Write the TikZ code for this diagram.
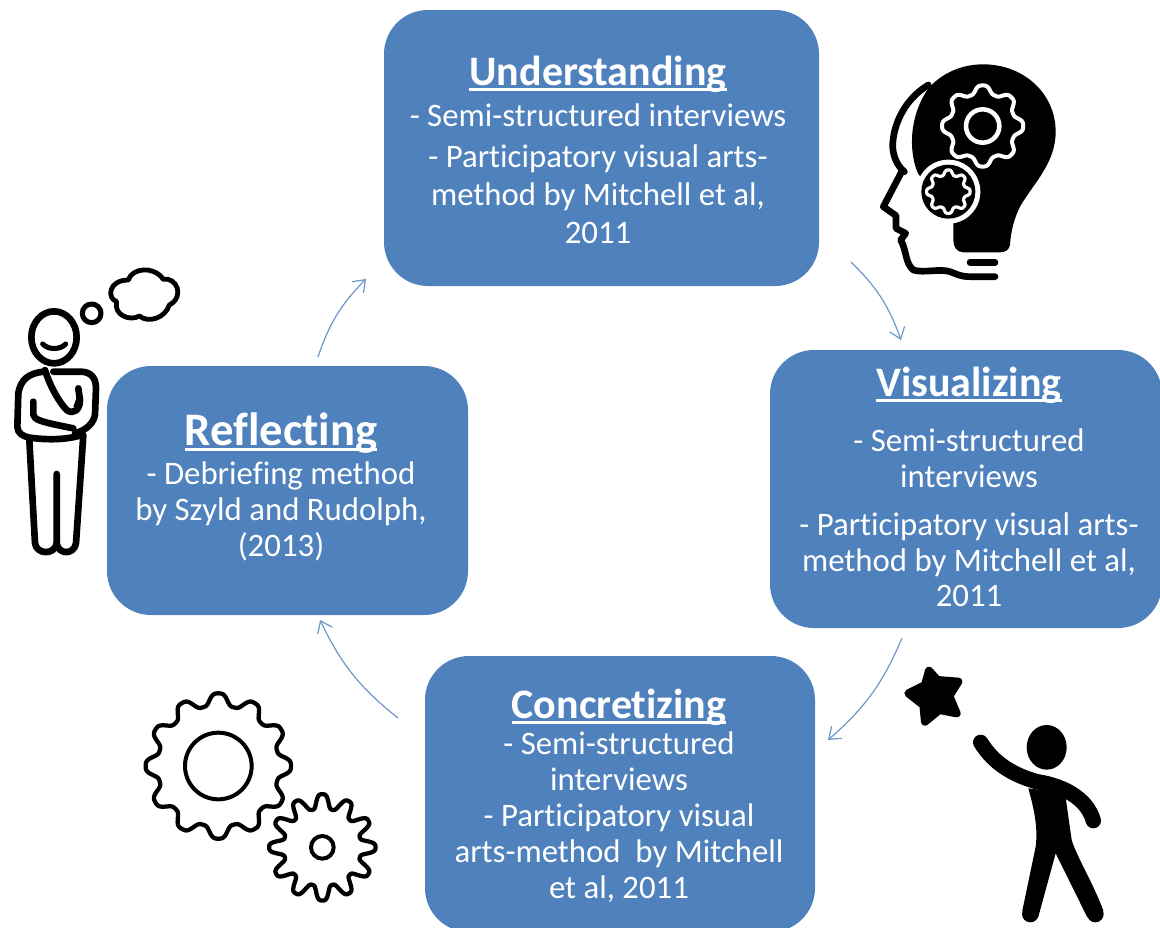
\documentclass[tikz,border=0pt]{standalone}
\usepackage{fontspec}
\setmainfont[Ligatures=NoCommon]{Carlito}
\usetikzlibrary{arrows.meta}
\definecolor{boxblue}{HTML}{4F81BD}
\definecolor{arrowblue}{HTML}{6E97CB}
\newcommand\ttl[2][31.5]{\setbox0\hbox{\fontsize{#1}{30}\selectfont\bfseries #2}\rlap{\rule[-3.8pt]{\wd0}{2pt}}\box0}
\newcommand\gearshape[6]{\draw[#6,shift={(#1,#2)}] plot[domain=0:360,samples=361] (\x:{#3+#4*(cos(#5*\x)-0.1*cos(3*#5*\x))}) -- cycle;}
\tikzset{
  box/.style={fill=boxblue,draw=none,rounded corners=33pt,inner sep=0pt},
  boxtext/.style={text=white,align=center,inner sep=0pt,font=\fontsize{24.6}{27}\selectfont},
  link/.style={draw=arrowblue,line width=0.9pt,-{Straight Barb[length=8pt,width=12pt,line width=0.9pt]},bend left=13},
  ink/.style={line width=5pt,line cap=round,line join=round,draw=black},
}
\begin{document}
\begin{tikzpicture}[x=0.75pt,y=-0.75pt]
\useasboundingbox (0,0) rectangle (1160,928);
\fill[white] (0,0) rectangle (1160,928);
\clip (0,0) rectangle (1160,928);

\node[box,minimum width=326.25pt,minimum height=207pt] (understanding) at (601.5,148) {};
\node[box,minimum width=294pt,minimum height=208.5pt] (visualizing) at (966,489) {};
\node[box,minimum width=270.75pt,minimum height=186.75pt] (reflecting) at (287.5,490.5) {};
\node[box,minimum width=292.5pt,minimum height=207pt] (concretizing) at (620,794) {};

\node[boxtext,font=\fontsize{24.6}{28.5}\selectfont] (understandingtext) at (598,150) {\ttl{Understanding}\\[2pt]- Semi-structured interviews\\[2pt]- Participatory visual arts-\\method by Mitchell et al,\\2011};
\node[boxtext,font=\fontsize{24.6}{26.5}\selectfont] (visualizingtext) at (969,487) {\ttl{Visualizing}\\[15pt]- Semi-structured\\interviews\\[10pt]- Participatory visual arts-\\method by Mitchell et al,\\2011};
\node[boxtext] (reflectingtext) at (281,487) {\ttl[35]{Reflecting}\\[2pt]- Debriefing method\\by Szyld and Rudolph,\\(2013)};
\node[boxtext] (concretizingtext) at (619,796) {\ttl{Concretizing}\\[0pt]- Semi-structured\\interviews\\- Participatory visual\\arts-method~ by Mitchell\\et al, 2011};

\coordinate (a1) at (851,262); \coordinate (a2) at (901,340);
\coordinate (b1) at (902,638); \coordinate (b2) at (828,740);
\coordinate (c1) at (398,718); \coordinate (c2) at (320,620);
\coordinate (d1) at (318,357); \coordinate (d2) at (366,279);
\draw[link] (a1) to (a2);
\draw[link] (b1) to (b2);
\draw[link] (c1) to (c2);
\draw[link] (d1) to (d2);

% head with bulb
\begin{scope}[shift={(860,50)},x=0.25pt,y=-0.25pt]
  \fill[black,line join=round] (205,115) .. controls (250,65) and (310,43) .. (370,43)
    .. controls (490,43) and (587,130) .. (587,245)
    .. controls (587,340) and (520,400) .. (480,470)
    .. controls (460,510) and (452,550) .. (450,585)
    .. controls (447,600) and (435,607) .. (420,607) -- (310,607)
    .. controls (290,607) and (280,590) .. (280,570) -- (280,500) -- (175,372)
    .. controls (150,320) and (140,210) .. (205,115) -- cycle;
  \draw[line width=5pt,line cap=round,line join=round] (205,105) .. controls (130,150) and (98,230) .. (98,290)
     .. controls (100,325) and (115,350) .. (133,365);
  \draw[line width=5pt,line cap=round,line join=round] (125,365) -- (70,470) -- (108,497) -- (108,535) -- (137,550) -- (122,570)
     .. controls (140,600) and (135,640) .. (160,660) .. controls (190,670) and (240,655) .. (270,665)
     .. controls (290,672) and (300,680) .. (330,680) -- (405,680);
  \draw[line width=5pt,line cap=round] (330,637) -- (405,637);
  % upper gear
  \gearshape{368}{228}{110}{13}{8}{draw=white,line width=3pt,fill=black}
  \draw[white,line width=3.4pt] (368,228) circle (50);
  % lower gear
  \fill[white] (265,425) circle (96);
  \fill[black] (265,425) circle (81);
  \gearshape{265}{425}{58}{8}{8}{draw=white,line width=2.4pt,fill=black}
\end{scope}

% thinking man
\begin{scope}[shift={(0,260)},x=0.25pt,y=-0.25pt]
  \draw[ink] (162,232) ellipse (68 and 78);
  \draw[ink,line width=3.8pt] (128,252) .. controls (145,270) and (180,270) .. (197,252);
  \draw[ink,line width=3.8pt] (275,160) circle (28);
  \draw[ink,line width=3.6pt] (385,60) .. controls (395,25) and (460,15) .. (490,58)
    .. controls (530,50) and (555,110) .. (508,135)
    .. controls (495,175) and (445,190) .. (418,168)
    .. controls (390,185) and (340,165) .. (350,125)
    .. controls (320,115) and (325,60) .. (385,60) -- cycle;
  % arms and torso
  \draw[ink] (130,335) .. controls (90,340) and (62,355) .. (55,400) -- (52,500) .. controls (52,520) and (70,530) .. (90,533)
     .. controls (140,540) and (200,540) .. (245,525);
  \draw[ink] (100,425) -- (100,465) .. controls (105,480) and (120,485) .. (220,505);
  \draw[ink] (135,330) .. controls (150,380) and (180,430) .. (200,450) .. controls (220,465) and (240,450) .. (240,420) -- (235,385);
  \fill[black] (220,440) -- (240,385) -- (240,445) -- cycle;
  \draw[ink] (160,335) -- (240,335) .. controls (270,335) and (288,350) .. (288,385) -- (285,465) .. controls (280,490) and (260,510) .. (225,520);
  % legs
  \draw[ink] (88,540) -- (105,850) .. controls (110,885) and (165,885) .. (170,850) -- (170,642);
  \draw[ink] (170,850) .. controls (175,885) and (222,885) .. (228,850) -- (250,525);
\end{scope}

% gears
\begin{scope}[shift={(130,680)},x=0.25pt,y=-0.25pt]
  \gearshape{265}{258}{200}{20}{12}{line width=3.2pt,draw=black,fill=white,line join=round}
  \draw[line width=3pt] (265,258) circle (100);
  \gearshape{577}{502}{138}{24}{12}{line width=3.2pt,draw=black,fill=white,line join=round}
  \draw[line width=3pt] (577,502) circle (34);
\end{scope}

% reaching person
\begin{scope}[shift={(890,660)},x=0.25pt,y=-0.25pt]
  \filldraw[line width=6pt,line join=round] (117,32) -- (142,60) -- (205,65) -- (178,108) -- (200,160) -- (148,150) -- (105,185) -- (100,135) -- (55,100) -- (105,75) -- cycle;
  \fill (470,262) ellipse (60 and 67);
  \draw[line width=11.5pt,line cap=round] (272,247) .. controls (310,310) and (370,345) .. (440,365);
  \draw[line width=11.5pt,line cap=round] (440,365) .. controls (510,375) and (590,410) .. (610,482);
  \fill (415,385) .. controls (430,440) and (445,500) .. (437,560) -- (397,752) -- (445,770) -- (497,580) -- (592,772) -- (640,752)
     .. controls (610,670) and (560,590) .. (545,540) -- (525,400) -- cycle;
  \fill (421,762) circle (25);
  \fill (616,762) circle (25);
\end{scope}
\end{tikzpicture}
\end{document}
